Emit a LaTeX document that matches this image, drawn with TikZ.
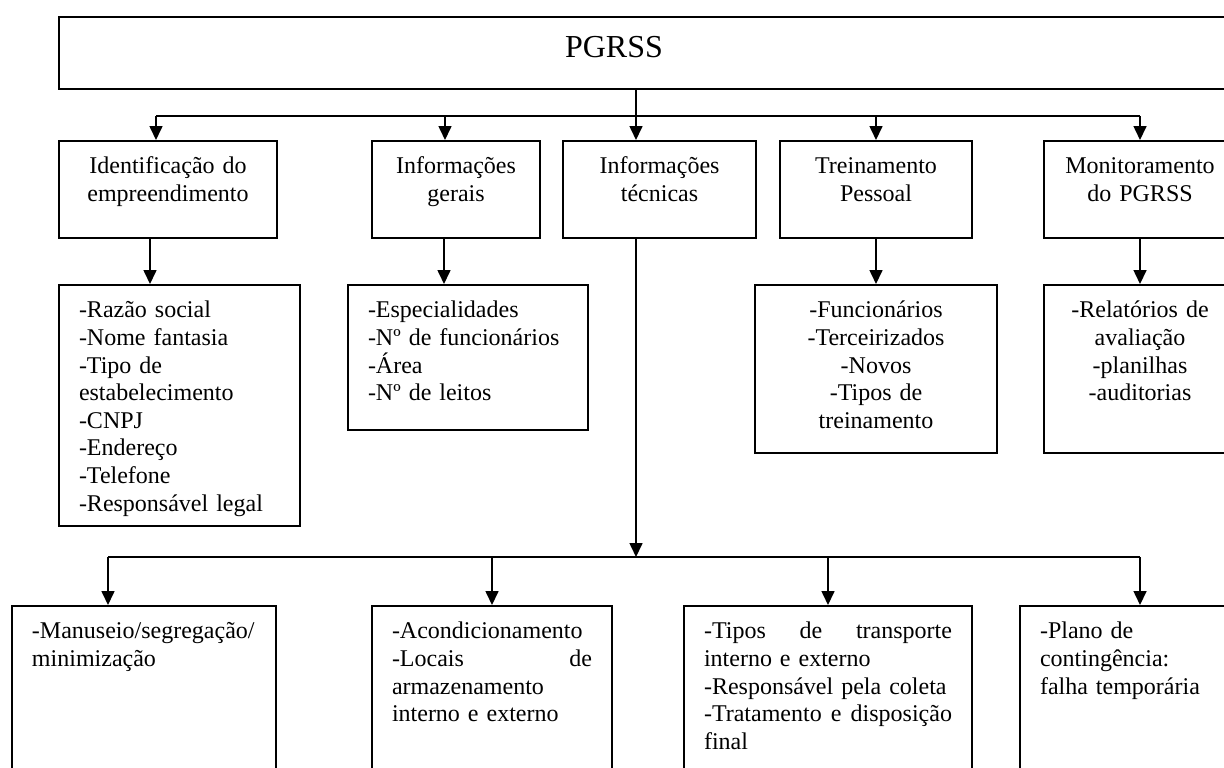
\documentclass[tikz,border=0pt]{standalone}
\usepackage{fontspec}
\setmainfont{Liberation Serif}
\usetikzlibrary{arrows.meta}
\tikzset{
    BX/.style ={rectangle, draw, anchor=north, inner xsep=10pt, inner ysep=0pt,
                font=\fontsize{12}{13.8}\selectfont, text height=16.5pt},
    BC/.style ={BX, align=center},
    BL/.style ={BX, align=left},
    AR/.style ={-{Triangle[length=7pt,width=6.5pt]}}}

\begin{document}
\begin{tikzpicture}[x=0.5pt, y=-0.5pt, line width=0.8pt]
        \clip (0,0) rectangle (1224,767);
        \node[BC, font=\fontsize{16}{19}\selectfont, text width=570.5pt, text height=20.5pt, text depth=15.5pt] (pgrss) at (649.5,16) {\hspace*{-35.5pt}PGRSS};
        \node[BC, text width=89pt, text depth=32pt] (ident) at (168,140) {Identificação do\\empreendimento};
        \node[BC, text width=64pt, text depth=32pt] (gerais) at (456,140) {Informações\\gerais};
        \node[BC, text width=76.5pt, text depth=32pt] (tecn) at (659.5,140) {Informações\\técnicas};
        \node[BC, text width=76pt, text depth=32pt] (treino) at (876,140) {Treinamento\\Pessoal};
        \node[BC, text width=76pt, text depth=32pt] (monit) at (1140,140) {Monitoramento\\do PGRSS};
        \node[BL, text width=100.5pt, text depth=104pt] (identL) at (179.5,284) {-Razão social\\-Nome fantasia\\-Tipo de\\estabelecimento\\-CNPJ\\-Endereço\\-Telefone\\-Responsável legal};
        \node[BL, text width=100pt, text depth=56pt] (geraisL) at (468,284) {-Especialidades\\-Nº de funcionários\\-Área\\-Nº de leitos};
        \node[BC, text width=101pt, text depth=67.5pt] (treinoL) at (876,284) {-Funcionários\\-Terceirizados\\-Novos\\-Tipos de\\treinamento};
        \node[BC, text width=76pt, text depth=67.5pt] (monitL) at (1140,284) {-Relatórios de\\avaliação\\-planilhas\\-auditorias};
        \node[BL, text width=112pt, text depth=81pt] (manus) at (144,605) {-Manuseio/segregação/\\minimização};
        \node[BL, text width=100pt, text depth=81pt] (acond) at (492,605) {-Acondicionamento\\\makebox[100pt][s]{-Locais\hfill de}\\armazenamento\\interno e externo};
        \node[BL, text width=124pt, text depth=81pt] (tipos) at (828,605) {\makebox[124pt][s]{-Tipos\hfill de\hfill transporte}\\interno e externo\\-Responsável pela coleta\\\makebox[124pt][s]{-Tratamento\hfill e\hfill disposição}\\final};
        \node[BL, text width=100pt, text depth=81pt] (plano) at (1140,605) {-Plano de\\contingência:\\falha temporária};
        \coordinate (bus) at (636,116);
        \coordinate (low) at (636,557);
        % upper level
        \draw[AR] (pgrss.south -| bus) -- (tecn.north -| bus);
        \draw ([xshift=-6pt]ident.north |- bus) -- (monit.north |- bus);
        \draw[AR] ([xshift=-6pt]ident.north |- bus) -- ([xshift=-6pt]ident.north);
        \draw[AR] ([xshift=-5.5pt]gerais.north |- bus) -- ([xshift=-5.5pt]gerais.north);
        \draw[AR] (treino.north |- bus) -- (treino.north);
        \draw[AR] (monit.north |- bus) -- (monit.north);
        % lists
        \draw[AR] ([xshift=-9pt]ident.south) -- ([xshift=-9pt]ident.south |- identL.north);
        \draw[AR] ([xshift=-6pt]gerais.south) -- ([xshift=-6pt]gerais.south |- geraisL.north);
        \draw[AR] (treino.south) -- (treinoL.north);
        \draw[AR] (monit.south) -- (monitL.north);
        % lower level
        \draw[AR] (tecn.south -| low) -- (low);
        \draw ([xshift=-18pt]manus.north |- low) -- (plano.north |- low);
        \draw[AR] ([xshift=-18pt]manus.north |- low) -- ([xshift=-18pt]manus.north);
        \draw[AR] (acond.north |- low) -- (acond.north);
        \draw[AR] (tipos.north |- low) -- (tipos.north);
        \draw[AR] (plano.north |- low) -- (plano.north);
    \end{tikzpicture}
\end{document}
